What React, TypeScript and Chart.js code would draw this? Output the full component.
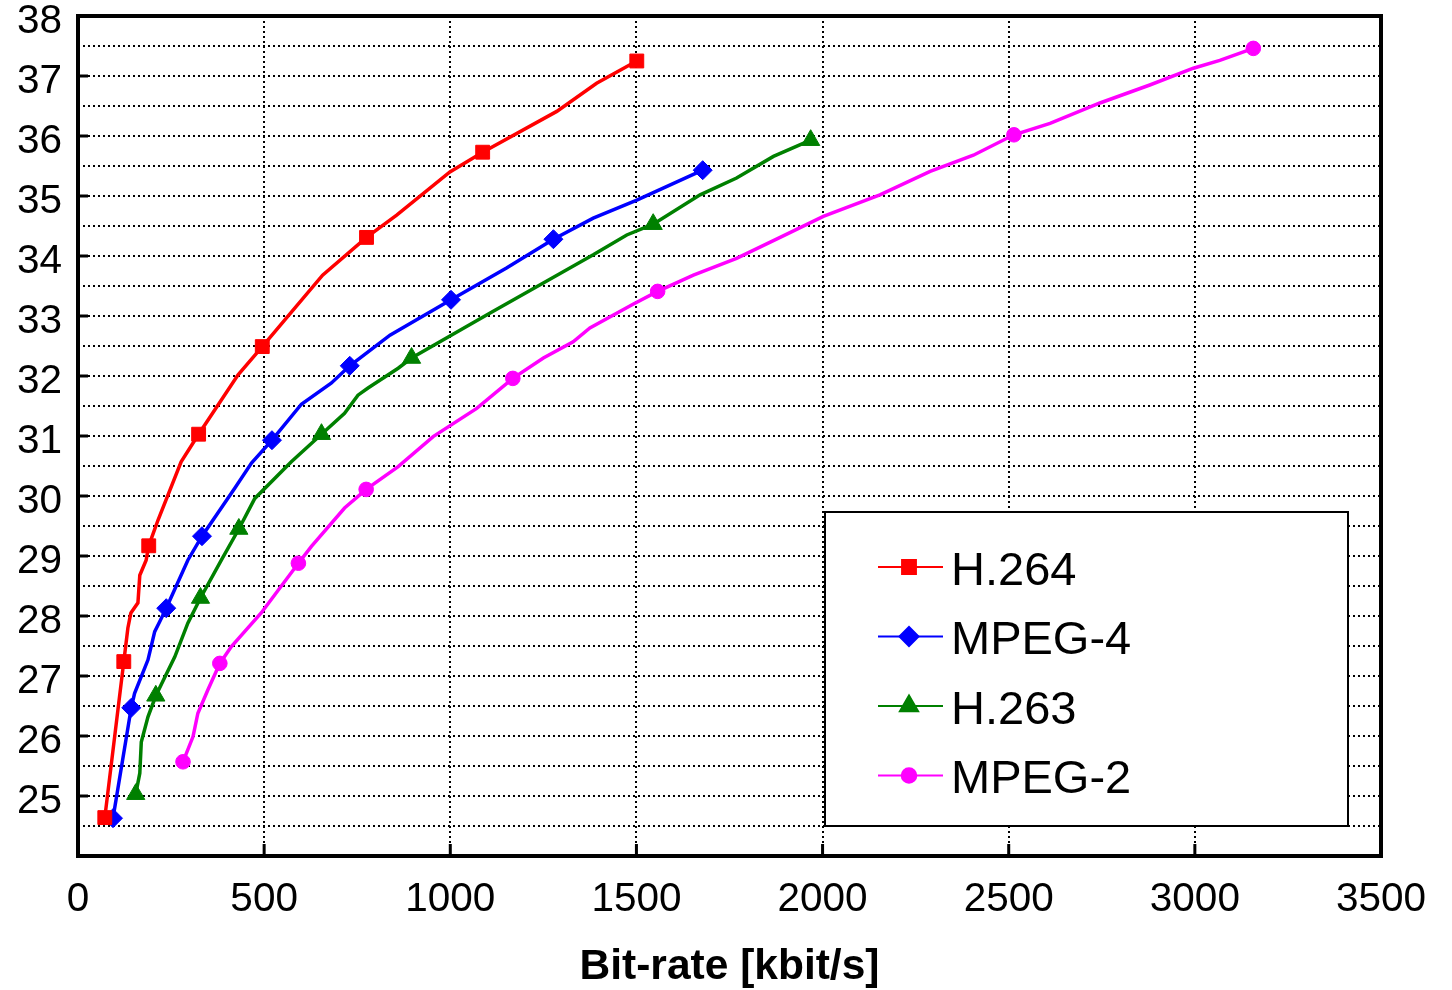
import React, { useEffect, useRef } from 'react';
import { Chart, registerables } from 'chart.js';
import { drawPoint } from 'chart.js/helpers';

Chart.register(...registerables);

const FONT = '"Liberation Sans", Arial, Helvetica, sans-serif';

const seriesNames = ['H.264', 'MPEG-4', 'H.263', 'MPEG-2'];
const seriesColors = ['#ff0000', '#0000ff', '#008000', '#ff00ff'];
const seriesStyles = ['rect', 'rectRot', 'triangle', 'circle'];
const seriesRadius = [9.8, 9.5, 10.5, 7.3];

const xTicks = [0, 500, 1000, 1500, 2000, 2500, 3000, 3500];
const yLabelTicks = [25, 26, 27, 28, 29, 30, 31, 32, 33, 34, 35, 36, 37, 38];

const h264Rate = [72, 123, 134, 142, 161, 166, 183, 190, 215, 277, 324, 430, 495, 555, 657, 775, 856, 999, 1087, 1286, 1393, 1501];
const h264Psnr = [24.64, 27.24, 27.8, 28.05, 28.22, 28.68, 28.93, 29.17, 29.6, 30.57, 31.03, 32.02, 32.49, 32.93, 33.68, 34.31, 34.68, 35.4, 35.73, 36.41, 36.88, 37.25];
const h264Marks = [0, 1, 7, 10, 12, 15, 18, 21];

const mpeg4Rate = [94, 143, 152, 188, 206, 219, 237, 295, 333, 421, 466, 521, 600, 680, 730, 838, 1002, 1151, 1277, 1384, 1501, 1678];
const mpeg4Psnr = [24.63, 26.47, 26.71, 27.27, 27.74, 27.9, 28.13, 28.93, 29.33, 30.13, 30.55, 30.93, 31.53, 31.88, 32.17, 32.68, 33.27, 33.8, 34.28, 34.63, 34.93, 35.43];
const mpeg4Marks = [0, 1, 6, 8, 11, 14, 16, 18, 21];

const h263Rate = [155, 166, 170, 188, 209, 260, 295, 329, 385, 432, 475, 573, 654, 716, 752, 779, 860, 896, 1107, 1295, 1384, 1474, 1545, 1671, 1769, 1868, 1968];
const h263Psnr = [25.03, 25.38, 25.9, 26.32, 26.67, 27.32, 27.88, 28.3, 28.93, 29.45, 29.96, 30.57, 31.03, 31.38, 31.68, 31.8, 32.13, 32.3, 33.05, 33.71, 34.02, 34.35, 34.53, 35.02, 35.3, 35.66, 35.93];
const h263Marks = [0, 4, 7, 9, 12, 17, 22, 26];

const mpeg2Rate = [282, 309, 322, 349, 381, 412, 492, 592, 627, 716, 774, 860, 954, 1071, 1168, 1250, 1330, 1375, 1492, 1557, 1653, 1769, 1886, 2002, 2154, 2289, 2405, 2514, 2611, 2745, 2879, 2996, 3067, 3157];
const mpeg2Psnr = [25.57, 25.99, 26.38, 26.77, 27.21, 27.49, 28.05, 28.88, 29.16, 29.8, 30.11, 30.49, 30.99, 31.46, 31.96, 32.3, 32.57, 32.8, 33.2, 33.41, 33.68, 33.96, 34.31, 34.66, 35.02, 35.41, 35.68, 36.02, 36.21, 36.55, 36.85, 37.13, 37.26, 37.46];
const mpeg2Marks = [0, 4, 7, 10, 14, 19, 27, 33];

const allRates = [h264Rate, mpeg4Rate, h263Rate, mpeg2Rate];
const allPsnr = [h264Psnr, mpeg4Psnr, h263Psnr, mpeg2Psnr];
const allMarks = [h264Marks, mpeg4Marks, h263Marks, mpeg2Marks];

const framePlugin = {
  id: 'framePlugin',
  afterDraw(chart: any) {
    const ctx = chart.ctx;
    const { left, right, top, bottom } = chart.chartArea;
    const xs = chart.scales.x;
    const ys = chart.scales.y;
    ctx.save();
    ctx.strokeStyle = '#000';
    ctx.lineWidth = 3;
    ctx.beginPath();
    yLabelTicks.forEach((v) => {
      if (v <= 24 || v >= 38) return;
      const py = ys.getPixelForValue(v);
      ctx.moveTo(left, py);
      ctx.lineTo(left + 10, py);
    });
    xTicks.forEach((v) => {
      if (v <= 0 || v >= 3500) return;
      const px = xs.getPixelForValue(v);
      ctx.moveTo(px, bottom);
      ctx.lineTo(px, bottom - 12);
    });
    ctx.stroke();
    ctx.lineWidth = 4;
    ctx.strokeRect(left, top, right - left, bottom - top);

    const bx = 825, by = 512, bw = 523, bh = 314;
    ctx.fillStyle = '#fff';
    ctx.fillRect(bx, by, bw, bh);
    ctx.lineWidth = 2;
    ctx.strokeRect(bx, by, bw, bh);
    seriesNames.forEach((name, i) => {
      const ly = 567 + i * 69.5;
      ctx.strokeStyle = seriesColors[i];
      ctx.lineWidth = 2;
      ctx.beginPath();
      ctx.moveTo(878, ly);
      ctx.lineTo(943, ly);
      ctx.stroke();
      ctx.fillStyle = seriesColors[i];
      drawPoint(ctx, { pointStyle: seriesStyles[i], radius: seriesRadius[i], rotation: 0, borderWidth: 1 } as any, 909, ly);
      ctx.fillStyle = '#000';
      ctx.font = `47px ${FONT}`;
      ctx.textAlign = 'left';
      ctx.textBaseline = 'middle';
      ctx.fillText(name, 951, ly + 5);
    });
    ctx.restore();
  },
};

export default function App() {
  const ref = useRef<HTMLCanvasElement | null>(null);
  useEffect(() => {
    if (!ref.current) return;
    const datasets = seriesNames.map((name, i) => ({
      label: name,
      data: allRates[i].map((x, j) => ({ x, y: allPsnr[i][j] })),
      borderColor: seriesColors[i],
      backgroundColor: seriesColors[i],
      borderWidth: 3.5,
      pointStyle: seriesStyles[i],
      pointRadius: allRates[i].map((_, j) => (allMarks[i].includes(j) ? seriesRadius[i] : 0)),
      pointBorderWidth: 1,
      pointHoverRadius: 0,
      tension: 0,
      showLine: true,
      fill: false,
    }));
    const chart = new Chart(ref.current, {
      type: 'scatter',
      data: { datasets },
      options: {
        animation: false,
        responsive: false,
        maintainAspectRatio: false,
        events: [],
        layout: { padding: { left: 0, top: 16, right: 71, bottom: 0 } },
        plugins: { legend: { display: false }, tooltip: { enabled: false } },
        scales: {
          x: {
            type: 'linear',
            min: 0,
            max: 3500,
            afterBuildTicks: (s: any) => {
              s.ticks = xTicks.map((v) => ({ value: v }));
            },
            afterFit: (s: any) => {
              s.height = 134;
              s.paddingLeft = 0;
              s.paddingRight = 0;
            },
            grid: {
              drawTicks: false,
              lineWidth: 2,
              color: (c: any) => (c.tick && (c.tick.value <= 0 || c.tick.value >= 3500) ? 'rgba(0,0,0,0)' : '#000'),
            },
            border: { display: false, dash: [2, 3] },
            ticks: {
              autoSkip: false,
              maxRotation: 0,
              padding: 20,
              color: '#000',
              font: { family: FONT, size: 40.5 },
              callback: (v: any) => String(v),
            },
            title: {
              display: true,
              text: 'Bit-rate [kbit/s]',
              color: '#000',
              font: { family: FONT, size: 42.5, weight: 'bold', lineHeight: 1 },
              padding: { top: 0, bottom: 1 },
            },
          },
          y: {
            type: 'linear',
            min: 24,
            max: 38,
            ticks: {
              stepSize: 0.5,
              autoSkip: false,
              padding: 16,
              labelOffset: 6,
              color: '#000',
              font: { family: FONT, size: 40.5 },
              callback: (v: any) => (Number.isInteger(v) && v >= 25 ? String(v) : ''),
            },
            afterFit: (s: any) => {
              s.width = 78;
              s.paddingTop = 0;
              s.paddingBottom = 0;
            },
            grid: {
              drawTicks: false,
              lineWidth: 2,
              color: (c: any) => (c.tick && (c.tick.value <= 24 || c.tick.value >= 38) ? 'rgba(0,0,0,0)' : '#000'),
            },
            border: { display: false, dash: [2, 3] },
          },
        },
      },
      plugins: [framePlugin],
    } as any);
    return () => chart.destroy();
  }, []);
  return (
    <div style={{ position: 'absolute', left: 0, top: 0, width: 1452, height: 990, background: '#fff' }}>
      <canvas ref={ref} width={1452} height={990} style={{ display: 'block' }} />
    </div>
  );
}
